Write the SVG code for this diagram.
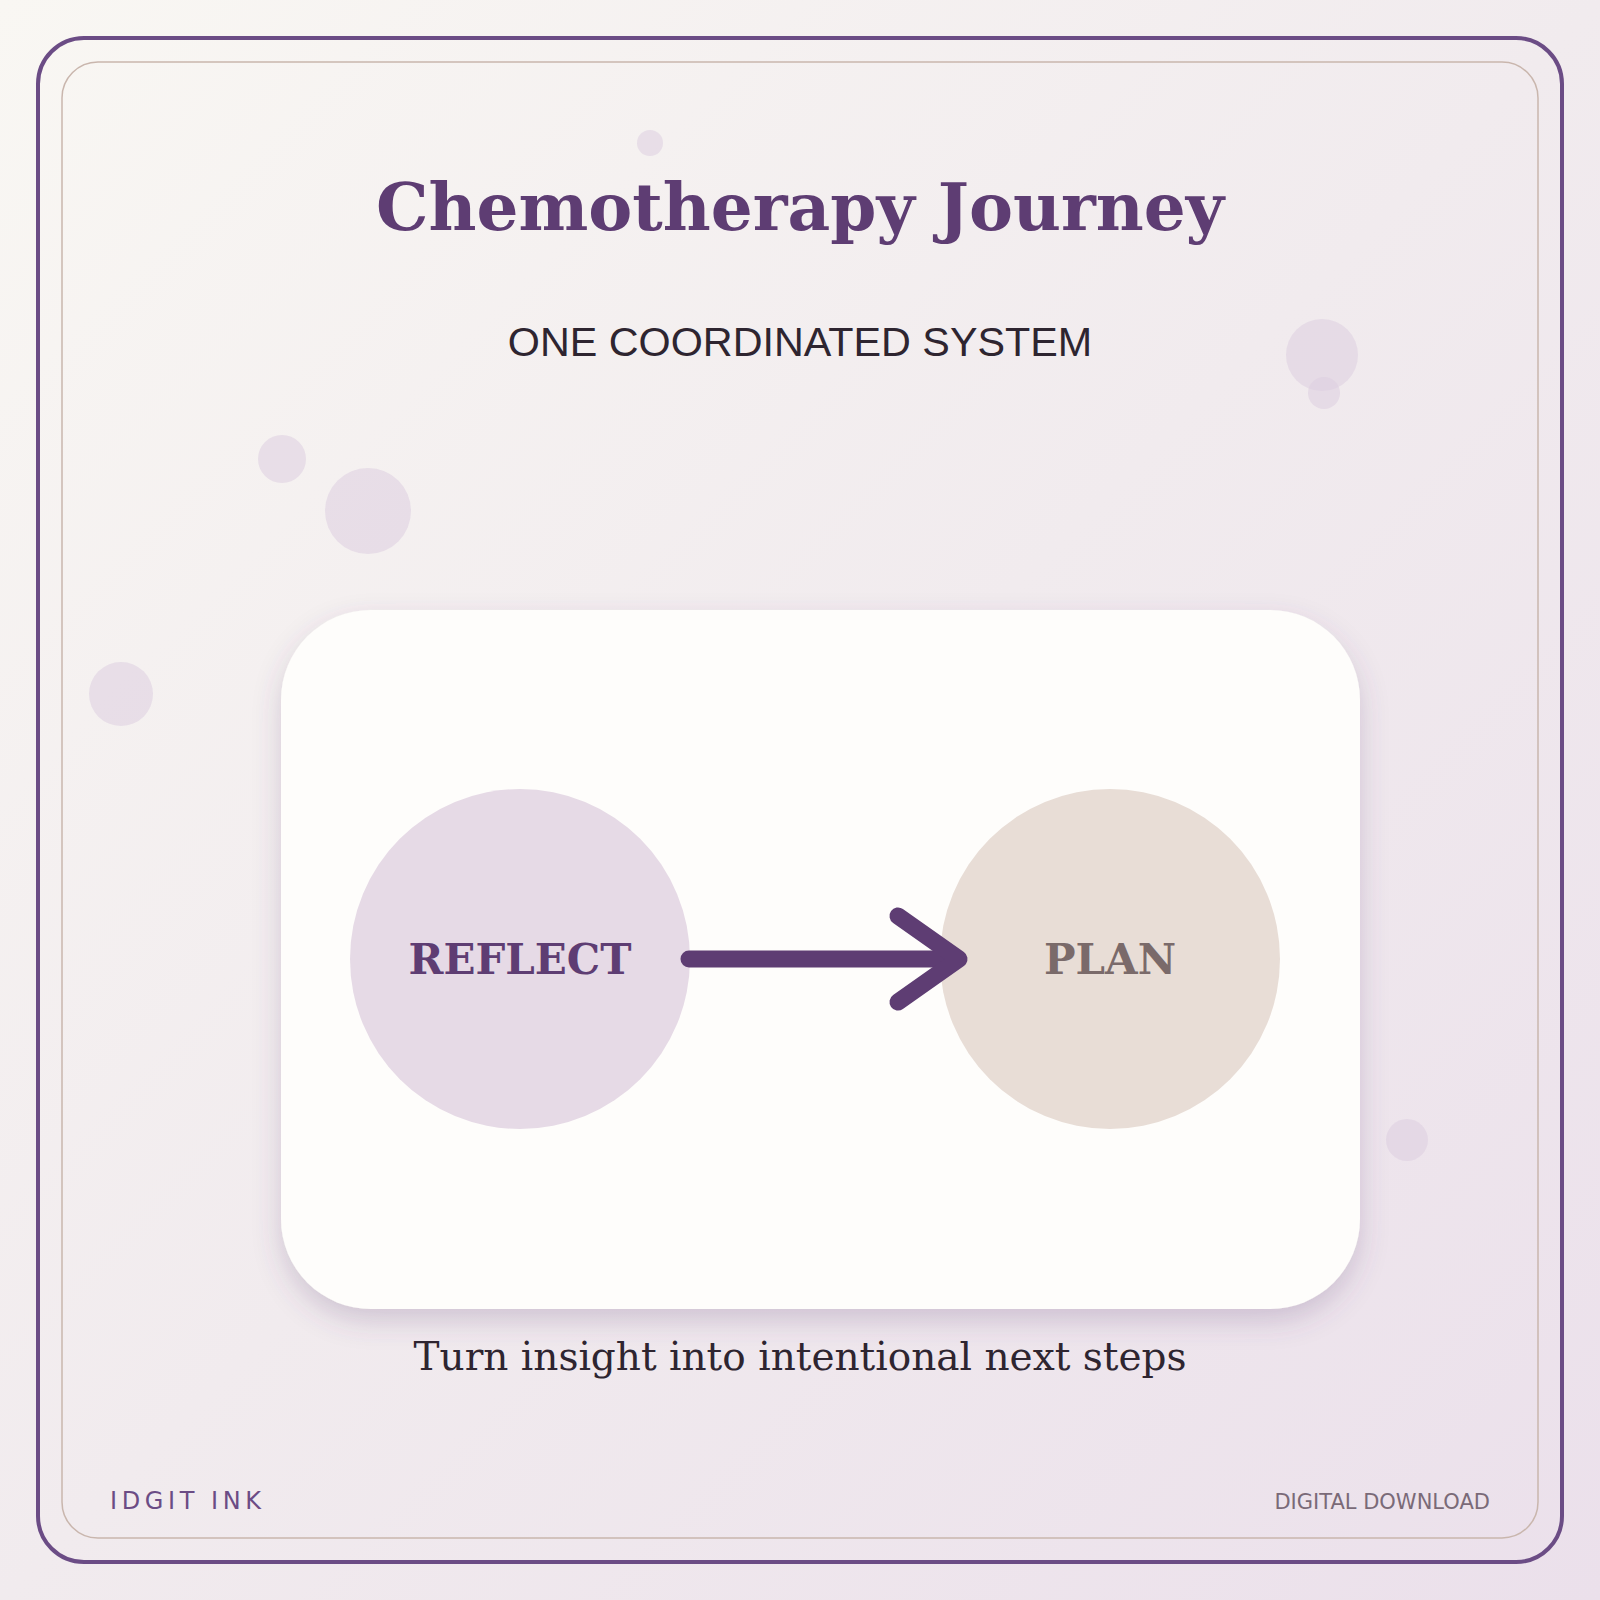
<svg xmlns="http://www.w3.org/2000/svg" width="1600" height="1600" viewBox="0 0 1600 1600">
<defs>
<linearGradient id="bg" x1="0" y1="0" x2="1" y2="1">
<stop offset="0" stop-color="#f9f7f3"/><stop offset="0.5" stop-color="#f1ebee"/><stop offset="1" stop-color="#ebe0eb"/>
</linearGradient>
<filter id="sh" x="-20%" y="-20%" width="140%" height="140%">
<feDropShadow dx="0" dy="12" stdDeviation="14" flood-color="#5e3d73" flood-opacity="0.22"/>
</filter>
<style>
.dot{fill:#dccde0;opacity:0.55}
.lbl{font-family:"DejaVu Serif",serif;font-weight:bold;font-size:42px;text-anchor:middle}
</style>
</defs>
<rect width="1600" height="1600" fill="url(#bg)"/>
<rect x="38" y="38" width="1524" height="1524" rx="46" fill="none" stroke="#6b4c85" stroke-width="4"/>
<rect x="62" y="62" width="1476" height="1476" rx="36" fill="none" stroke="#c9b6ad" stroke-width="1.5"/>
<g id="decor">
<circle class="dot" cx="650" cy="143" r="13"/>
<circle class="dot" cx="1322" cy="355" r="36"/>
<circle class="dot" cx="1324" cy="393" r="16"/>
<circle class="dot" cx="282" cy="459" r="24"/>
<circle class="dot" cx="368" cy="511" r="43"/>
<circle class="dot" cx="121" cy="694" r="32"/>
<circle class="dot" cx="1407" cy="1140" r="21"/>
</g>
<text x="800" y="230" text-anchor="middle" font-family="DejaVu Serif,serif" font-weight="bold" font-size="66" fill="#5e3d73">Chemotherapy Journey</text>
<text x="800" y="356" text-anchor="middle" font-family="Liberation Sans,sans-serif" font-size="41.3" fill="#2e2530">ONE COORDINATED SYSTEM</text>
<rect id="card" x="281" y="610" width="1079" height="699" rx="90" fill="#fefdfb" filter="url(#sh)"/>
<g id="reflect">
<circle cx="520" cy="959" r="170" fill="#e6dae6"/>
<text class="lbl" x="520" y="974" fill="#5e3d73">REFLECT</text>
</g>
<g id="plan">
<circle cx="1110" cy="959" r="170" fill="#e8ddd6"/>
<text class="lbl" x="1110" y="974" fill="#7a6a6a">PLAN</text>
</g>
<g id="connectors" fill="none" stroke="#5e3d73" stroke-width="17" stroke-linecap="round" stroke-linejoin="round">
<line x1="689" y1="959" x2="955" y2="959"/>
<polyline points="898,916 959,959 898,1002"/>
</g>
<text x="800" y="1370" text-anchor="middle" font-family="DejaVu Serif,serif" font-size="39" fill="#2e2530">Turn insight into intentional next steps</text>
<text x="110" y="1509" font-family="DejaVu Sans,sans-serif" font-size="24" letter-spacing="4.6" fill="#6b4c85">IDGIT INK</text>
<text x="1490" y="1509" text-anchor="end" font-family="DejaVu Sans,sans-serif" font-size="21" fill="#7a6a78">DIGITAL DOWNLOAD</text>
</svg>
